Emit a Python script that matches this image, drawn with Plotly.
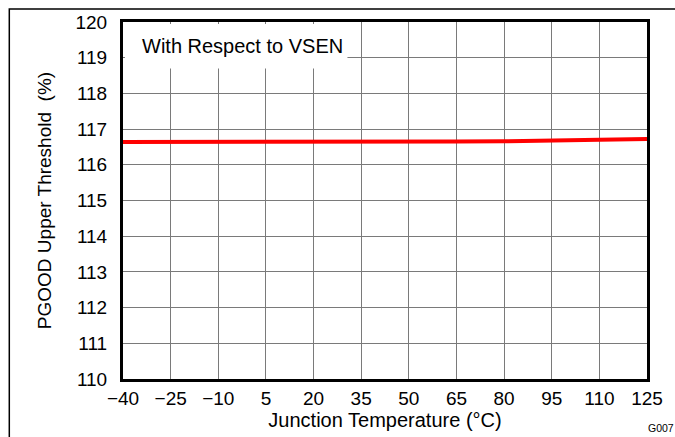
import plotly.graph_objects as go

temps = [-40, -25, -10, 5, 20, 35, 50, 65, 80, 95, 110, 125]
threshold = [116.64, 116.64, 116.63, 116.63, 116.63, 116.64, 116.64, 116.65, 116.66, 116.67, 116.70, 116.72]

x_ticks = [-40, -25, -10, 5, 20, 35, 50, 65, 80, 95, 110, 125]
x_ticktext = ["\u221240", "\u221225", "\u221210", "5", "20", "35", "50", "65", "80", "95", "110", "125"]
y_ticks = list(range(110, 121))

font_family = "Liberation Sans, Arial, sans-serif"

fig = go.Figure()
fig.add_trace(go.Scatter(x=temps, y=threshold, mode="lines",
                         line=dict(color="#ff0000", width=4), showlegend=False,
                         hoverinfo="skip"))

W, H = 675, 437
L, R, T, B = 123, 22, 21, 56
pw, ph = W - L - R, H - T - B

def px_x(p):
    return (p - L) / pw

def px_y(p):
    return 1 - (p - T) / ph

fig.update_layout(
    width=W, height=H,
    margin=dict(l=L, r=R, t=T, b=B),
    paper_bgcolor="white", plot_bgcolor="white",
    font=dict(family=font_family, size=19, color="black"),
    xaxis=dict(range=[-40, 125], tickvals=x_ticks, ticktext=x_ticktext,
               showgrid=True, gridcolor="#7a7a7a", gridwidth=1.2,
               showline=True, linecolor="black", linewidth=3, mirror=True,
               ticks="", zeroline=False, tickfont=dict(size=19),
               title=dict(text="Junction Temperature (\u00b0C)", standoff=2,
                          font=dict(size=20))),
    yaxis=dict(range=[110, 120], tickvals=y_ticks,
               showgrid=True, gridcolor="#7a7a7a", gridwidth=1.2,
               showline=True, linecolor="black", linewidth=3, mirror=True,
               ticks="", zeroline=False, ticklabelstandoff=9, tickfont=dict(size=19),
               title=dict(text="PGOOD Upper Threshold  (%)", standoff=19,
                          font=dict(size=19))),
    shapes=[
        dict(type="rect", xref="paper", yref="paper",
             x0=px_x(125), x1=px_x(350), y0=px_y(68), y1=px_y(23),
             fillcolor="white", line=dict(width=0), layer="above"),
        dict(type="path", xref="paper", yref="paper",
             path=f"M {px_x(8)},{px_y(450)} L {px_x(8)},{px_y(8)} L {px_x(700)},{px_y(8)}",
             line=dict(color="black", width=1.5)),
    ],
    annotations=[
        dict(text="With Respect to VSEN", xref="paper", yref="paper",
             x=px_x(140), y=px_y(45), xanchor="left", yanchor="middle",
             showarrow=False, font=dict(size=20)),
        dict(text="G007", xref="paper", yref="paper",
             x=px_x(652), y=px_y(430), xanchor="left", yanchor="middle",
             showarrow=False, font=dict(size=10.5)),
    ],
)

fig.write_html("out.html",
               config={"displayModeBar": False},
               post_script="document.body.style.margin='0px';document.body.style.padding='0px';")
